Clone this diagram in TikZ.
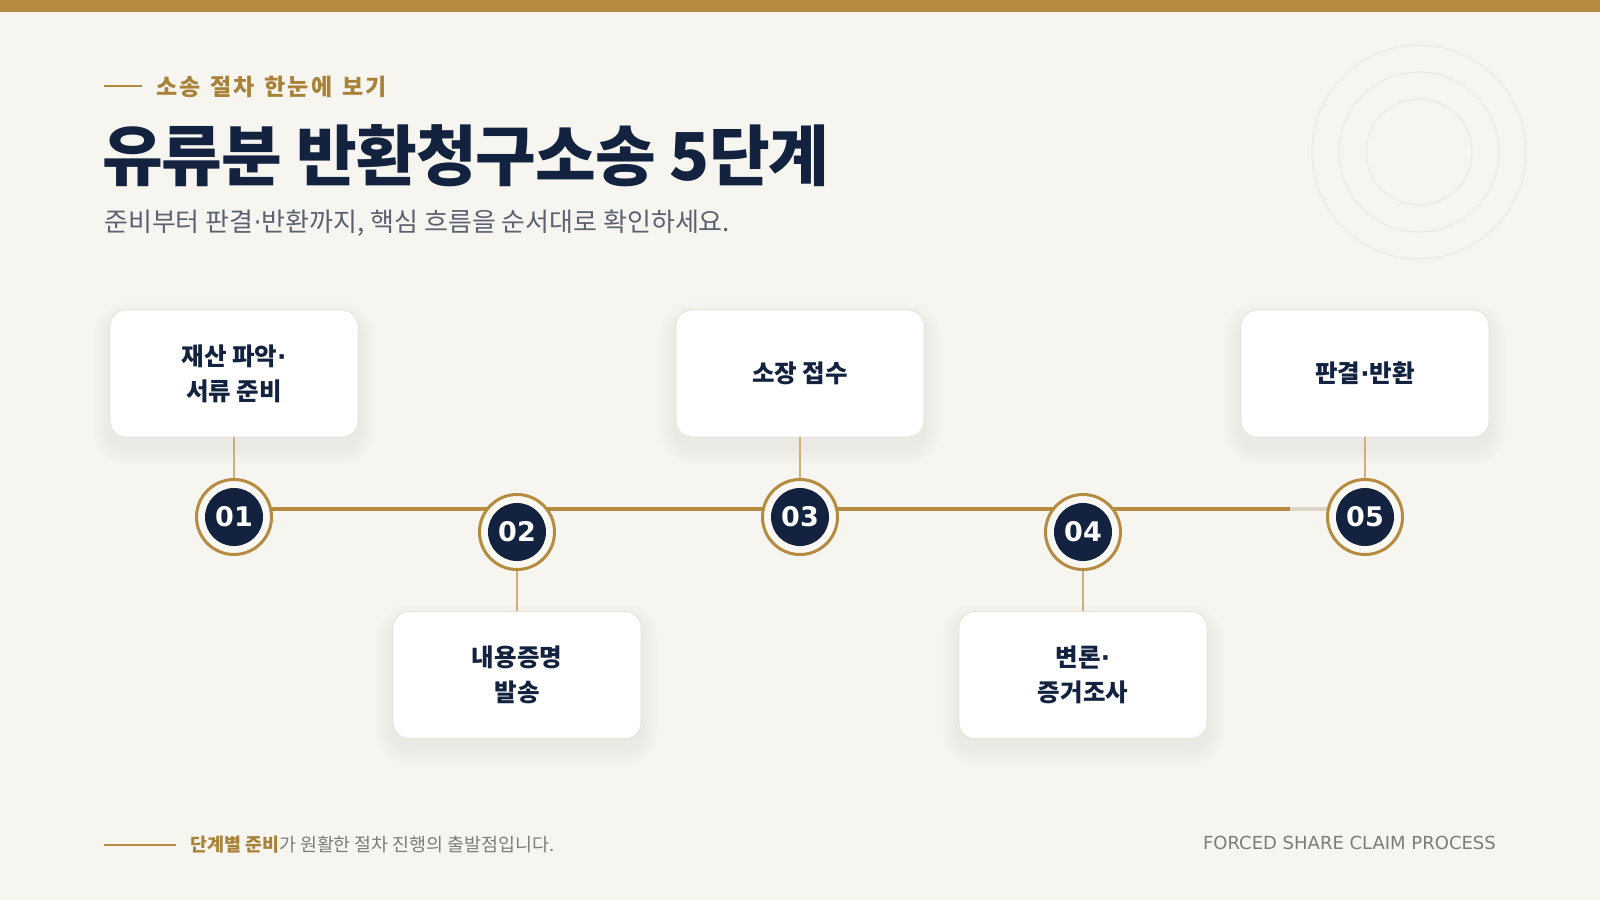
\documentclass[tikz,border=0pt]{standalone}
\usepackage{fontspec}
\setmainfont{Noto Sans CJK KR}
\newfontfamily\kr{Noto Sans CJK KR}
\newfontfamily\krtight{Noto Sans CJK KR}[LetterSpace=-1.5]
\newfontfamily\dv{DejaVu Sans}
\newcommand\md{{\dv·}}
\newcommand\tk{\kern2pt}
\newcommand\wgap{\hspace{10pt}}
\definecolor{bg}{HTML}{F7F5EF}
\definecolor{gold}{HTML}{B58B40}
\definecolor{goldtxt}{HTML}{A9823A}
\definecolor{goldlight}{HTML}{CDAF7A}
\definecolor{navy}{HTML}{13233F}
\definecolor{subgray}{HTML}{5B6170}
\definecolor{footgray}{HTML}{7C7C7C}
\definecolor{track}{HTML}{DDD6C8}
\definecolor{deco}{HTML}{ECE8DF}
\definecolor{cardline}{HTML}{E8E2D5}
\definecolor{ringfill}{HTML}{FAF8F3}
\tikzset{
  card/.style={rectangle, rounded corners=16pt, minimum width=248pt, minimum height=127pt,
    fill=white, draw=cardline, line width=0.8pt, align=center, text=navy,
    font=\kr\bfseries\fontsize{24.5}{35}\selectfont},
  ring/.style={circle, minimum size=75pt, inner sep=0pt, draw=gold, line width=3pt, fill=ringfill},
  numdot/.style={circle, minimum size=58pt, inner sep=0pt, fill=navy, text=white,
    font=\dv\bfseries\fontsize{27}{27}\selectfont},
  stem/.style={draw=goldlight, line width=1.6pt},
  decoring/.style={draw=deco, line width=1pt},
  shadowlayer/.style={fill=black, opacity=0.0058},
}
\newcommand\softshadow[2]{%
  \foreach \i in {1,...,12}{%
    \fill[shadowlayer, rounded corners=16pt+\i*1.5pt]
      (#1-124-\i*1.5, #2-63.5-\i*1.5+10) rectangle (#1+124+\i*1.5, #2+63.5+\i*1.5+10);
  }%
}
\begin{document}
\begin{tikzpicture}[x=1pt,y=-1pt]
\useasboundingbox (0,0) rectangle (1600,900);
\fill[bg] (0,0) rectangle (1600,900);
\fill[gold] (0,0) rectangle (1600,12);
% decorative circles
\draw[decoring] (1419,152) circle[radius=107];
\draw[decoring] (1419,152) circle[radius=80];
\draw[decoring] (1419,152) circle[radius=53];
% header
\coordinate (ebA) at (104,86);
\coordinate (ebB) at (142,86);
\draw[gold, line width=2.5pt] (ebA) -- (ebB);
\node[anchor=base west, inner sep=0pt, text=goldtxt, font=\kr\bfseries\fontsize{23}{23}\selectfont] (eyebrow) at (156,95) {소\tk 송\wgap 절\tk 차\wgap 한\tk 눈\tk 에\wgap 보\tk 기};
\node[anchor=base west, inner sep=0pt, text=navy, font=\krtight\bfseries\fontsize{66}{66}\selectfont] (title) at (102,180) {유류분 반환청구소송 5단계};
\node[anchor=base west, inner sep=0pt, text=subgray, font=\kr\fontsize{26}{26}\selectfont] (subtitle) at (104,231) {준비부터 판결\md 반환까지, 핵심 흐름을 순서대로 확인하세요.};
% timeline
\coordinate (tlS) at (234,509);
\coordinate (tlG) at (1290,509);
\coordinate (tlE) at (1365,509);
\draw[track, line width=3.5pt] (tlS) -- (tlE);
\draw[gold, line width=3.5pt] (tlS) -- (tlG);
% card shadows
\softshadow{234}{373.5}
\softshadow{517}{675}
\softshadow{800}{373.5}
\softshadow{1083}{675}
\softshadow{1365}{373.5}
% cards
\node[card] (k1) at (234,373.5) {재산 파악\md\\서류 준비};
\node[card] (k2) at (517,675) {내용증명\\발송};
\node[card] (k3) at (800,373.5) {소장 접수};
\node[card] (k4) at (1083,675) {변론\md\\증거조사};
\node[card] (k5) at (1365,373.5) {판결\md 반환};
% step circles
\node[ring] (r1) at (234,517) {};
\node[ring] (r2) at (517,532) {};
\node[ring] (r3) at (800,517) {};
\node[ring] (r4) at (1083,532) {};
\node[ring] (r5) at (1365,517) {};
\node[numdot] (n1) at (r1) {01};
\node[numdot] (n2) at (r2) {02};
\node[numdot] (n3) at (r3) {03};
\node[numdot] (n4) at (r4) {04};
\node[numdot] (n5) at (r5) {05};
% stems
\draw[stem] (k1.south) -- (r1.north);
\draw[stem] (k3.south) -- (r3.north);
\draw[stem] (k5.south) -- (r5.north);
\draw[stem] (r2.south) -- (k2.north);
\draw[stem] (r4.south) -- (k4.north);
% footer
\coordinate (ftA) at (104,845);
\coordinate (ftB) at (176,845);
\draw[gold, line width=1.8pt] (ftA) -- (ftB);
\node[anchor=base west, inner sep=0pt, text=footgray, font=\kr\fontsize{18.4}{18.4}\selectfont] (foot) at (190,851) {\textcolor{goldtxt}{\bfseries 단계별 준비}가 원활한 절차 진행의 출발점입니다.};
\node[anchor=base east, inner sep=0pt, text=footgray, font=\dv\fontsize{18}{18}\selectfont] (eng) at (1496,849) {FORCED SHARE CLAIM PROCESS};
\end{tikzpicture}
\end{document}
